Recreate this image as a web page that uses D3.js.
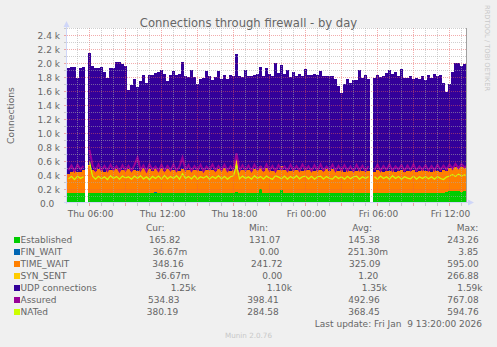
<!DOCTYPE html>
<html><head><meta charset="utf-8">
<script src="https://cdn.jsdelivr.net/npm/d3@7"></script>
<style>
body{margin:0;background:#f0f0f0;}
svg text{font-family:"DejaVu Sans",sans-serif;fill:#666;white-space:pre;}
</style>
</head><body>
<svg id="chart" width="497" height="347"></svg>
<script>
// ---------------- DATA ----------------
const startTime = new Date(2026, 0, 8, 4, 5);
const endTime = new Date(2026, 0, 9, 13, 25);
const stepMinutes = 15;

const seriesNames = ["Established", "FIN_WAIT", "TIME_WAIT", "SYN_SENT", "UDP connections", "Assured", "NATed"];
const seriesColors = ["#00cc00", "#0066b3", "#ff8000", "#ffcc00", "#330099", "#990099", "#ccff00"];

const established = [138,140,137,139,141,140,null,
148,146,147,149,146,148,147,150,148,146,149,147,148,
147,149,146,148,150,147,146,149,148,147,150,148,146,149,147,148,150,147,149,146,
148,147,149,150,146,148,147,149,148,150,147,146,149,148,147,150,152,148,147,149,
148,146,150,147,195,149,148,146,150,147,148,185,149,147,146,150,148,147,149,148,
147,149,146,148,150,147,149,148,146,147,149,148,150,147,146,149,148,147,150,148,
147,null,
149,148,147,150,146,148,149,147,148,150,146,149,148,147,150,148,147,149,
148,150,147,149,148,150,152,166,168,165,167,164,166,166];

const finWait = [0,0,0,0,0,0,null,
0,0,0,0.2,0,0,0,0,0,0,0,0,0,
0,0,0,0,0,0,0,0,0,3.85,0,0,0,0,0,0,0,0,0,0,
0,0,0,0,0,0,0,0,0,0,0,0,0,0,0.5,0,0,0,0,0,
0,0,0,0,0,0,0,0,0,0,0,0,0,0,0,0,0,0,0,0,
0,0,0,0,0,0,0,0,0,0,0,0,0,0,0,0,0,0,0,0,
0,null,
0,0,0,0,0,0,0,0,0,0,0,0,0,0,0,0,0,0,
0,0,0,0,0,0,0,0,0,0,0,0,0,0.04];

const timeWait = [270,300,320,310,305,330,null,
380,330,310,340,320,300,335,315,325,345,310,330,320,
340,315,330,305,325,350,320,335,310,340,325,345,315,330,350,320,335,310,340,325,
330,345,320,335,315,340,325,350,330,310,340,320,345,330,315,335,340,320,330,345,
325,310,340,320,335,315,345,330,305,340,320,350,325,335,310,340,320,330,315,345,
320,335,310,340,325,315,330,305,335,320,310,325,300,330,315,320,305,335,310,325,
315,null,
300,320,310,295,315,305,325,300,310,320,295,315,305,325,300,310,320,305,
315,300,320,310,295,315,305,330,340,350,335,345,355,348];

const synSent = [0,0,0,0,0,0,null,
20,0,0,0,0,0,0,0,0,0,0,0,0,
0,0,0,0,0,0,0,0,0,0,0,0,0,0,0,0,0,0,0,0,
0,0,0,0,0,0,0,0,0,0,0,0,0,0,0,0,150,0,0,0,
0,0,0,0,0,0,0,0,0,0,0,0,0,0,0,0,0,0,0,0,
0,0,0,0,0,0,0,0,0,0,0,0,0,0,0,0,0,0,0,0,
0,null,
0,0,0,0,0,0,0,0,0,0,0,0,0,0,0,0,0,0,
0,0,0,0,0,0,0,0,0,0,0,0,0,0.04];

const udp = [1520,1505,1485,1335,1485,1470,null,
1590,1485,1475,1445,1475,1425,1305,1465,1455,1525,1555,1505,1485,
1125,1215,1300,1205,1275,1335,1245,1345,1375,1360,1390,1410,1375,1265,1335,1420,1345,1385,1520,1340,
1320,1405,1335,1215,1315,1300,1410,1320,1285,1335,1400,1310,1340,1300,1360,1335,1480,1345,1325,1400,
1345,1360,1340,1370,1420,1355,1440,1365,1355,1520,1390,1440,1375,1420,1350,1385,1340,1360,1345,1420,
1365,1345,1380,1340,1405,1350,1330,1365,1335,1310,1215,1105,1255,1290,1250,1285,1310,1420,1330,1350,
1305,null,
1330,1355,1340,1365,1395,1445,1375,1420,1360,1450,1340,1315,1355,1300,1340,1315,1345,1310,
1360,1340,1370,1350,1390,1245,1135,1205,1360,1480,1500,1450,1470,1250];

const assured = [470,535,455,545,480,530,null,
760,540,465,550,470,530,460,545,475,525,455,540,470,
530,460,545,650,470,535,455,550,475,520,460,545,465,530,470,550,460,525,650,475,
540,460,530,475,545,455,520,480,550,465,530,470,545,460,525,475,710,465,540,470,
535,460,545,475,520,465,550,470,530,455,540,480,525,460,545,470,530,465,550,475,
525,460,540,470,550,465,520,475,545,460,530,470,540,465,525,455,545,470,535,460,
530,null,
470,545,460,530,475,550,465,525,480,540,460,535,470,550,465,525,475,540,
465,530,470,545,475,535,480,550,490,560,500,555,510,535];

const nated = [345,380,335,385,350,375,null,
590,385,340,380,345,375,335,390,350,380,340,385,355,
375,340,385,350,390,345,375,335,380,350,385,340,395,345,380,350,390,340,420,350,
380,345,390,340,375,355,385,340,380,350,390,345,380,340,375,390,540,345,385,350,
375,340,390,350,380,345,385,355,340,390,370,345,385,340,380,350,390,345,375,385,
345,380,340,375,385,345,380,350,340,385,350,375,340,380,345,375,385,340,375,350,
380,null,
375,340,385,350,375,340,390,350,380,340,375,355,345,385,340,375,350,380,
345,375,340,380,350,335,370,385,405,380,410,385,400,380];

const yTicks = [0,200,400,600,800,1000,1200,1400,1600,1800,2000,2200,2400];
const yTickLabels = ["0.0  ","0.2 k","0.4 k","0.6 k","0.8 k","1.0 k","1.2 k","1.4 k","1.6 k","1.8 k","2.0 k","2.2 k","2.4 k"];

const legendHeaders = ["Cur:", "Min:", "Avg:", "Max:"];
const curValues = ["165.82","36.67m","348.16","36.67m","1.25k","534.83","380.19"];
const minValues = ["131.07","0.00","241.72","0.00","1.10k","398.41","284.58"];
const avgValues = ["145.38","251.30m","325.09","1.20","1.35k","492.96","368.45"];
const maxValues = ["243.26","3.85","595.00","266.88","1.59k","767.08","594.76"];

const titleText = "Connections through firewall - by day";
const yAxisTitle = "Connections";
const lastUpdateText = "Last update: Fri Jan  9 13:20:00 2026";
const footerText = "Munin 2.0.76";
const watermarkText = "RRDTOOL / TOBI OETIKER";

// ---------------- LAYOUT ----------------
const plot = {left: 67, right: 467, top: 28, bottom: 203};
const svg = d3.select("#chart");

svg.append("rect").attr("width", 497).attr("height", 347).attr("fill", "#f0f0f0");
svg.append("rect").attr("x", plot.left).attr("y", plot.top)
  .attr("width", plot.right - plot.left).attr("height", plot.bottom - plot.top).attr("fill", "#ffffff");

const times = established.map((_, i) => new Date(+startTime + i * stepMinutes * 60000));
const x = d3.scaleTime().domain([startTime, endTime]).range([plot.left, plot.right]);
const y = d3.scaleLinear().domain([0, 2500]).range([plot.bottom, plot.top]);

const rows = times.map((t, i) => ({
  t, gap: established[i] == null,
  est: established[i], fin: finWait[i], tw: timeWait[i], syn: synSent[i], udp: udp[i],
  assured: assured[i], nated: nated[i]
}));

svg.append("clipPath").attr("id", "clip").append("rect")
  .attr("x", plot.left).attr("y", plot.top - 1)
  .attr("width", plot.right - plot.left).attr("height", plot.bottom - plot.top + 1);

const g = svg.append("g").attr("clip-path", "url(#clip)");

const stackKeys = ["est", "fin", "tw", "syn", "udp"];
const stacked = d3.stack().keys(stackKeys).value((d, k) => d[k] == null ? 0 : d[k])(rows);
const stepW = x(new Date(+startTime + stepMinutes * 60000)) - x(startTime);

stacked.forEach((layer, li) => {
  g.append("g").attr("fill", seriesColors[li]).attr("shape-rendering", "crispEdges")
    .selectAll("rect").data(layer.filter(d => !d.data.gap)).join("rect")
    .attr("x", d => x(d.data.t))
    .attr("width", stepW)
    .attr("y", d => y(d[1]))
    .attr("height", d => Math.max(0, y(d[0]) - y(d[1])));
});

const lineAssured = d3.line().defined(d => d.assured != null)
  .x(d => x(d.t) + stepW / 2).y(d => y(d.assured));
const lineNated = d3.line().defined(d => d.nated != null)
  .x(d => x(d.t) + stepW / 2).y(d => y(d.nated));
g.append("path").datum(rows).attr("d", lineAssured).attr("fill", "none")
  .attr("stroke", seriesColors[5]).attr("stroke-width", 2);
g.append("path").datum(rows).attr("d", lineNated).attr("fill", "none")
  .attr("stroke", seriesColors[6]).attr("stroke-width", 1.2);

// ---------------- GRID ----------------
const minorColor = "rgba(170,170,170,0.55)";
const majorColor = "rgba(230,90,90,0.5)";
const hours = d3.timeHour.range(d3.timeHour.ceil(startTime), endTime);
const grid = svg.append("g").attr("shape-rendering", "crispEdges");
hours.forEach(h => {
  const major = h.getHours() % 3 === 0;
  const px = Math.round(x(h)) - 0.5;
  grid.append("line").attr("x1", px).attr("x2", px).attr("y1", plot.top).attr("y2", plot.bottom)
    .attr("stroke", major ? majorColor : minorColor).attr("stroke-dasharray", "1,1");
  grid.append("line").attr("x1", px).attr("x2", px).attr("y1", plot.bottom).attr("y2", plot.bottom + 3)
    .attr("stroke", major ? majorColor : minorColor);
});
d3.range(100, 2501, 100).forEach(v => {
  const major = v % 200 === 0 && v <= 2400;
  const py = Math.round(y(v)) + 0.5;
  grid.append("line").attr("x1", plot.left).attr("x2", plot.right).attr("y1", py).attr("y2", py)
    .attr("stroke", major ? majorColor : minorColor).attr("stroke-dasharray", "1,1");
  grid.append("line").attr("x1", plot.left - 3).attr("x2", plot.left).attr("y1", py).attr("y2", py)
    .attr("stroke", major ? majorColor : minorColor);
});

// right border
svg.append("line").attr("x1", plot.right - 0.5).attr("x2", plot.right - 0.5)
  .attr("y1", plot.top).attr("y2", plot.bottom).attr("stroke", "#a0a0a0").attr("shape-rendering", "crispEdges");

// ---------------- AXES ----------------
const axisColor = "#CFD6F8";
svg.append("line").attr("x1", plot.left - 0.5).attr("x2", plot.left - 0.5)
  .attr("y1", plot.bottom + 1).attr("y2", plot.top - 4).attr("stroke", axisColor).attr("shape-rendering", "crispEdges");
svg.append("path").attr("d", `M${plot.left - 3.5},${plot.top - 1}L${plot.left + 2.5},${plot.top - 1}L${plot.left - 0.5},${plot.top - 7}Z`).attr("fill", axisColor);
svg.append("line").attr("x1", plot.left - 3).attr("x2", plot.right + 3)
  .attr("y1", plot.bottom - 0.5).attr("y2", plot.bottom - 0.5).attr("stroke", axisColor).attr("shape-rendering", "crispEdges");
svg.append("path").attr("d", `M${plot.right + 1},${plot.bottom - 3.5}L${plot.right + 1},${plot.bottom + 2.5}L${plot.right + 7},${plot.bottom - 0.5}Z`).attr("fill", axisColor);

// Y labels
const yAxis = d3.axisLeft(y).tickValues(yTicks).tickSize(0).tickFormat((d, i) => yTickLabels[i]);
const yg = svg.append("g").attr("transform", `translate(60,0)`).call(yAxis);
yg.select(".domain").remove();
yg.selectAll("text").attr("x", 0).attr("dy", "0.36em").attr("fill", "#666")
  .style("font-family", "DejaVu Sans").style("font-size", "9px");

// X labels
const labelTimes = hours.filter(h => h.getHours() % 6 === 0);
const fmt = d3.timeFormat("%a %H:%M");
const xAxis = d3.axisBottom(x).tickValues(labelTimes).tickSize(0).tickFormat(fmt);
const xg = svg.append("g").attr("transform", `translate(0,${plot.bottom})`).call(xAxis);
xg.select(".domain").remove();
xg.selectAll("text").attr("y", 0).attr("dy", "13.5").attr("fill", "#666")
  .style("font-family", "DejaVu Sans").style("font-size", "9px");

// Title
svg.append("text").attr("x", 248.5).attr("y", 26.5).attr("text-anchor", "middle")
  .style("font-size", "11.6px").text(titleText);
// Y title
svg.append("text").attr("transform", "translate(14,115.5) rotate(-90)").attr("text-anchor", "middle")
  .style("font-size", "9.2px").text(yAxisTitle);
// watermark
svg.append("text").attr("transform", "translate(485,5) rotate(90)").attr("text-anchor", "start")
  .style("font-size", "6.7px").style("fill", "#c8c8c8").text(watermarkText);

// ---------------- LEGEND ----------------
const legendFont = "9px";
const headerX = [146, 249, 352.3, 456.7];
legendHeaders.forEach((h, i) => {
  svg.append("text").attr("x", headerX[i]).attr("y", 231).style("font-size", legendFont).text(h);
});
const cellX = [
  [149, 152.7, 152.3, 155.3, 170.7, 148, 146.7],
  [249, 259.3, 251, 262.3, 266.7, 247.3, 247.3],
  [348.3, 347.7, 349, 358.3, 361.7, 348.3, 348.3],
  [447.3, 458.3, 447.3, 447.3, 457.3, 447.3, 447.3]
];
const columns = [curValues, minValues, avgValues, maxValues];
seriesNames.forEach((name, r) => {
  const base = 243 + r * 12;
  svg.append("rect").attr("x", 14).attr("y", base - 6).attr("width", 6).attr("height", 6)
    .attr("fill", seriesColors[r]);
  svg.append("text").attr("x", 20.5).attr("y", base).style("font-size", legendFont).text(name);
  columns.forEach((col, c) => {
    svg.append("text").attr("x", cellX[c][r]).attr("y", base).style("font-size", legendFont).text(col[r]);
  });
});
svg.append("text").attr("x", 482).attr("y", 326.5).attr("text-anchor", "end")
  .style("font-size", legendFont).text(lastUpdateText);
svg.append("text").attr("x", 248.5).attr("y", 337.5).attr("text-anchor", "middle")
  .style("font-size", "7.2px").style("fill", "#c8c8c8").text(footerText);
</script>
</body></html>
